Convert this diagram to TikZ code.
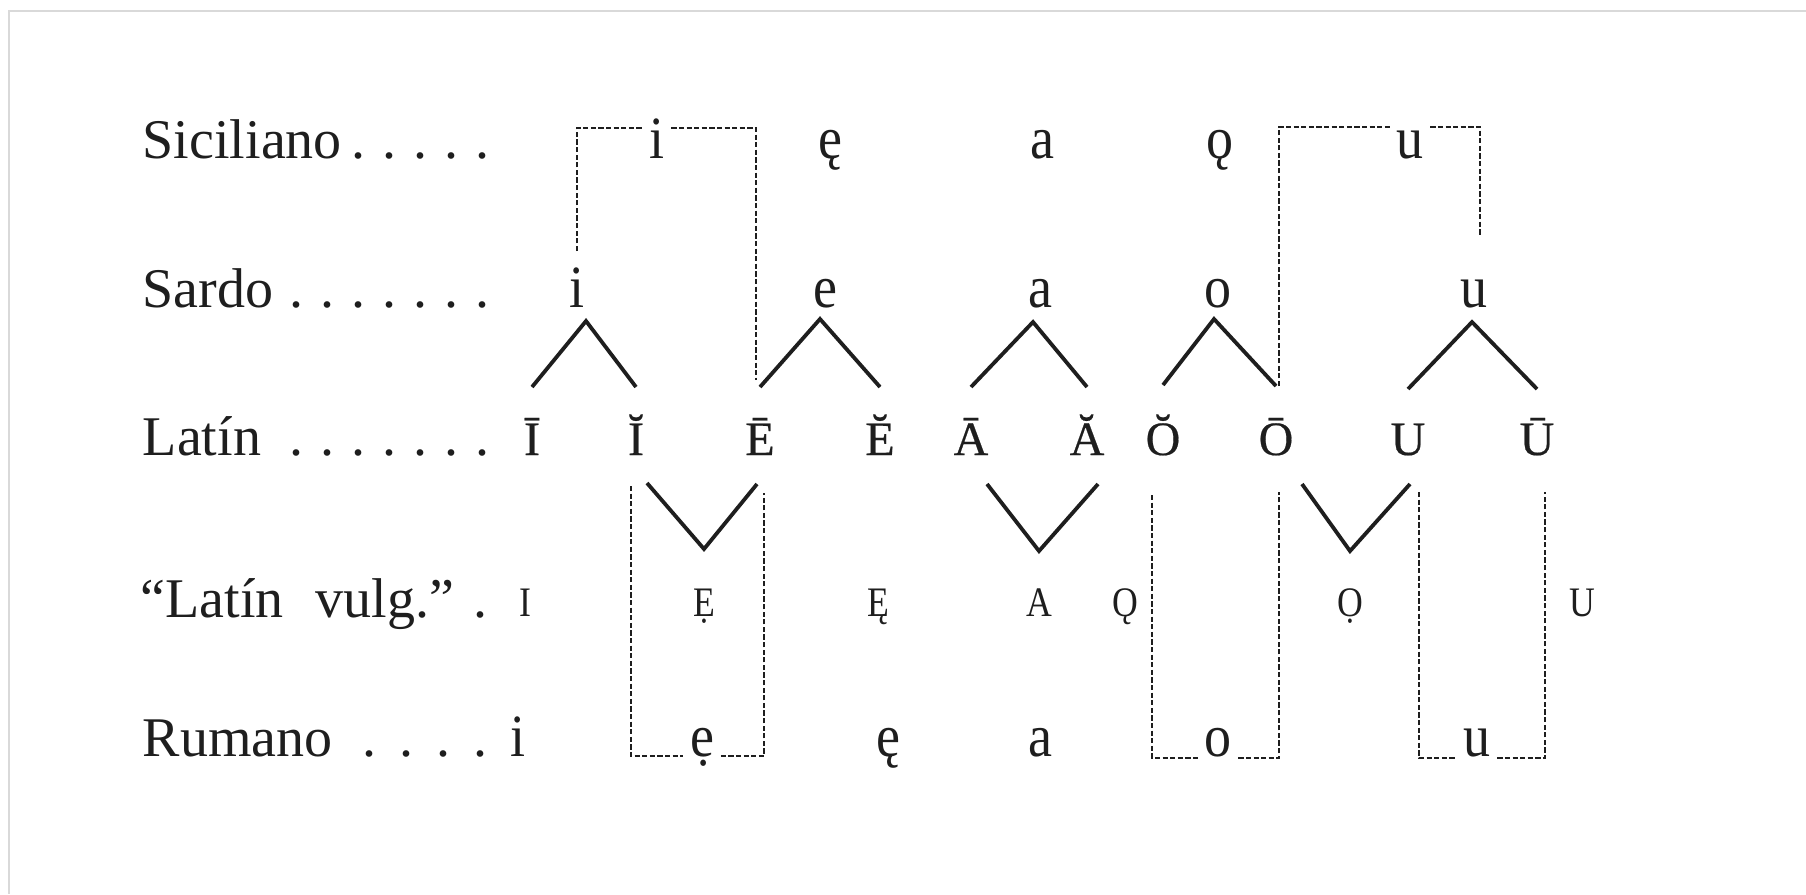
\documentclass[tikz,border=0pt]{standalone}
\usepackage{fontspec}
\setmainfont{Liberation Serif}
\newfontfamily\vowfont[FakeStretch=0.9]{Liberation Serif}
\newfontfamily\capfont[FakeBold=0.4]{Liberation Serif}
\newfontfamily\vulfont[FakeStretch=0.85]{Liberation Serif}
\usetikzlibrary{calc}
\definecolor{ink}{HTML}{1E1E1E}
\definecolor{framegrey}{HTML}{D9D9D9}
\newcommand\dotcell{\makebox[7.75pt]{.}}
\newcommand\dotcellw{\makebox[9.3pt]{.}}
\tikzset{
  lbl/.style={anchor=base west, inner sep=0pt, font=\fontsize{14}{16}\selectfont, text=ink},
  low/.style={anchor=base, inner sep=1.5pt, font=\vowfont\fontsize{15}{17}\selectfont, text=ink},
  lat/.style={anchor=base, inner sep=1.5pt, font=\capfont\fontsize{12}{14}\selectfont, text=ink},
  vul/.style={anchor=base, inner sep=1.5pt, font=\vulfont\fontsize{10.5}{12}\selectfont, text=ink},
  arm/.style={draw=ink, line width=0.95pt, line join=miter},
  dsh/.style={draw=ink, line width=0.65pt, dash pattern=on 1.3pt off 0.6pt},
}
\begin{document}
\begin{tikzpicture}[x=0.25pt,y=-0.25pt]
\useasboundingbox (0,0) rectangle (1806,894);
\draw[framegrey, line width=0.6pt] (1806,11) -- (9,11) -- (9,894);

% row labels
\node[lbl] (lSic) at (142,158) {\makebox[88.9pt][l]{Siciliano\hfill\dotcell\dotcell\dotcell\dotcell\dotcell}};
\node[lbl] (lSar) at (142,307) {\makebox[88.9pt][l]{Sardo\hfill\dotcell\dotcell\dotcell\dotcell\dotcell\dotcell\dotcell}};
\node[lbl] (lLat) at (142,455) {\makebox[88.9pt][l]{Latín\hfill\dotcell\dotcell\dotcell\dotcell\dotcell\dotcell\dotcell}};
\node[lbl] (lVul) at (140,617) {\makebox[88.9pt][l]{“Latín\hspace{4.5pt} vulg.”\hfill\dotcell}};
\node[lbl] (lRum) at (142,756) {\makebox[89.15pt][l]{Rumano\hfill\dotcellw\dotcellw\dotcellw\dotcellw}};

% Siciliano
\node[low] (sic-i) at (657,158) {i};
\node[low] (sic-e) at (830,158) {ę};
\node[low] (sic-a) at (1042,158) {a};
\node[low] (sic-o) at (1220,158) {ǫ};
\node[low] (sic-u) at (1410,158) {u};
% Sardo
\node[low] (sar-i) at (577,307) {i};
\node[low] (sar-e) at (825,307) {e};
\node[low] (sar-a) at (1040,307) {a};
\node[low] (sar-o) at (1218,307) {o};
\node[low] (sar-u) at (1474,307) {u};
% Latin
\node[lat] (L1) at (532,455) {Ī};
\node[lat] (L2) at (636,455) {Ĭ};
\node[lat] (L3) at (760,455) {Ē};
\node[lat] (L4) at (880,455) {Ĕ};
\node[lat] (L5) at (971,455) {Ā};
\node[lat] (L6) at (1087,455) {Ă};
\node[lat] (L7) at (1163,455) {Ŏ};
\node[lat] (L8) at (1276,455) {Ō};
\node[lat] (L9) at (1408,455) {U};
\node[lat] (L10) at (1537,455) {Ū};
% Latin vulgar
\node[vul] (v-i) at (525,616) {I};
\node[vul] (v-e1) at (704,616) {Ẹ};
\node[vul] (v-e2) at (878,616) {Ę};
\node[vul] (v-a) at (1039,616) {A};
\node[vul] (v-o1) at (1125,616) {Ǫ};
\node[vul] (v-o2) at (1350,616) {Ọ};
\node[vul] (v-u) at (1582,616) {U};
% Rumano
\node[low] (rum-i) at (518,756) {i};
\node[low] (rum-e1) at (702,756) {ẹ};
\node[low] (rum-e2) at (888,756) {ę};
\node[low] (rum-a) at (1040,756) {a};
\node[low] (rum-o) at (1218,756) {o};
\node[low] (rum-u) at (1477,756) {u};

% apexes of the upper branches
\coordinate (ap1) at (586,321);
\coordinate (ap2) at (820,319);
\coordinate (ap3) at (1033,322);
\coordinate (ap4) at (1214,319);
\coordinate (ap5) at (1472,322);
\draw[arm] (L1|-0,387) -- (ap1) -- (L2|-0,387);
\draw[arm] (L3|-0,387) -- (ap2) -- (L4|-0,387);
\draw[arm] (L5|-0,387) -- (ap3) -- (L6|-0,387);
\draw[arm] (L7|-0,385) -- (ap4) -- (L8|-0,386);
\draw[arm] (L9|-0,389) -- (ap5) -- (L10|-0,389);

% lower branches
\draw[arm] ($(L2|-0,483)+(11,0)$) -- (v-e1|-0,549) -- ($(L3|-0,484)+(-3,0)$);
\draw[arm] ($(L5|-0,484)+(16,0)$) -- (v-a|-0,551) -- ($(L6|-0,484)+(11,0)$);
\draw[arm] ($(L8|-0,484)+(26,0)$) -- (v-o2|-0,551) -- ($(L9|-0,484)+(2,0)$);

% dashed brackets, upper
\draw[dsh] (sar-i|-0,251) |- (sic-i.west|-0,128);
\draw[dsh] (sic-i.east|-0,128) -| ($(L3|-0,380)+(-4,0)$);
\draw[dsh] ($(L8|-0,386)+(3,0)$) |- (sic-u.west|-0,127);
\draw[dsh] (sic-u.east|-0,127) -| ($(sar-u|-0,236)+(6,0)$);

% dashed brackets, lower
\draw[dsh] ($(L2|-0,486)+(-5,0)$) |- (rum-e1.west|-0,756);
\draw[dsh] (rum-e1.east|-0,756) -| ($(L3|-0,493)+(4,0)$);
\draw[dsh] ($(L7|-0,495)+(-11,0)$) |- (rum-o.west|-0,758);
\draw[dsh] (rum-o.east|-0,758) -| ($(L8|-0,492)+(3,0)$);
\draw[dsh] ($(L9|-0,492)+(11,0)$) |- (rum-u.west|-0,758);
\draw[dsh] (rum-u.east|-0,758) -| ($(L10|-0,492)+(8,0)$);
\end{tikzpicture}
\end{document}
